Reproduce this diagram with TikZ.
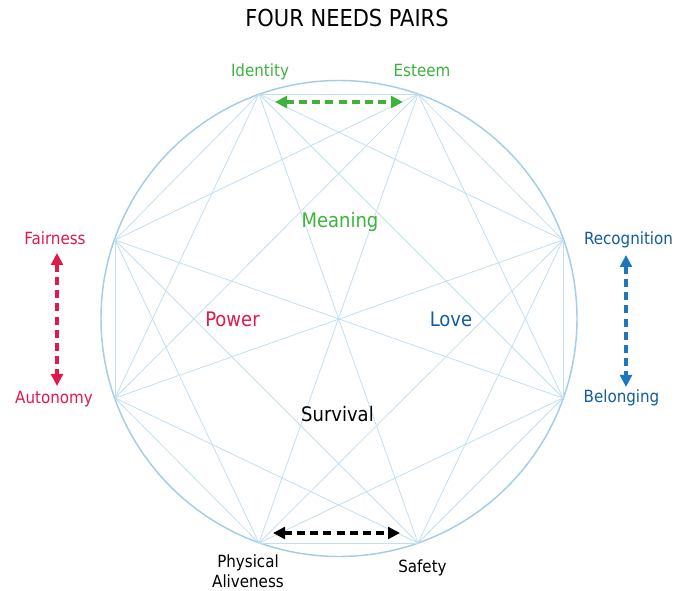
\documentclass[tikz,border=0pt]{standalone}
\usepackage{fontspec}
\setmainfont{DejaVu Sans Condensed}
\usetikzlibrary{arrows.meta}

\definecolor{needgreen}{HTML}{3DB33D}
\definecolor{needred}{HTML}{E0194A}
\definecolor{needblue}{HTML}{135C9E}
\definecolor{arrowblue}{HTML}{1B78C0}
\definecolor{chordblue}{HTML}{C2DFF1}
\definecolor{ringblue}{HTML}{A3CDE9}

\tikzset{
  chord/.style={draw=chordblue, line width=0.6pt},
  needlabel/.style={anchor=base, inner sep=0pt, font=\fontsize{12.6}{15.75}\selectfont},
  corelabel/.style={anchor=base, inner sep=0pt, font=\fontsize{15}{18}\selectfont},
  pairarrow/.style={line width=2.8pt, dash pattern=on 6pt off 3.8pt,
    {Triangle[length=9pt,width=8.8pt]}-{Triangle[length=9pt,width=8.8pt]}}
}

\begin{document}
\begin{tikzpicture}[x=0.75pt, y=-0.75pt]
\useasboundingbox (0,0) rectangle (675,591);

% the eight needs sit on the ring
\coordinate (v1) at (259,94);   % Identity
\coordinate (v2) at (418,94);   % Esteem
\coordinate (v3) at (563,240);  % Recognition
\coordinate (v4) at (563,398);  % Belonging
\coordinate (v5) at (418,543);  % Safety
\coordinate (v6) at (259,543);  % Physical Aliveness
\coordinate (v7) at (115,398);  % Autonomy
\coordinate (v8) at (115,240);  % Fairness

% ring and the chords (no straight across vertical/horizontal ones)
\draw[draw=ringblue, line width=1.1pt] (339,318.5) circle (238);
\foreach \i in {1,...,7} {
  \pgfmathtruncatemacro\nxt{\i+1}
  \foreach \j in {\nxt,...,8} {
    \pgfmathtruncatemacro\noline{((\i+\j==7) || (\i+\j==11)) && (\j-\i>2)}
    \ifnum\noline=0 \draw[chord] (v\i) -- (v\j); \fi
  }
}

% title
\node[anchor=base, font=\fontsize{17.5}{20}\selectfont] (title) at (347,27) {FOUR NEEDS PAIRS};

% outer labels
\node[needlabel, text=needgreen] (ident) at (260,77) {Identity};
\node[needlabel, text=needgreen] (esteem) at (422,77) {Esteem};
\node[needlabel, text=needblue] (recog) at (628.5,245) {Recognition};
\node[needlabel, text=needblue] (belong) at (621.5,403) {Belonging};
\node[needlabel, text=black] (safety) at (422.5,572) {Safety};
\node[needlabel, anchor=north, align=center, text=black,
      font=\fontsize{12.6}{15.2}\selectfont] (phys) at (248,554.5) {Physical\\Aliveness};
\node[needlabel, text=needred] (auton) at (54,404) {Autonomy};
\node[needlabel, text=needred] (fair) at (55,245) {Fairness};

% inner labels
\node[corelabel, text=needgreen] (meaning) at (340,228) {Meaning};
\node[corelabel, text=needred] (power) at (232.5,327) {Power};
\node[corelabel, text=needblue] (love) at (451,327) {Love};
\node[corelabel, text=black] (survival) at (337.5,422) {Survival};

% pair arrows
\coordinate (g1) at (275,102);
\coordinate (g2) at (403,102);
\coordinate (r1) at (57,253);
\coordinate (r2) at (57,386);
\coordinate (b1) at (626,255);
\coordinate (b2) at (626,387);
\coordinate (k1) at (273,533);
\coordinate (k2) at (400,533);
\draw[pairarrow, needgreen] (g1) -- (g2);
\draw[pairarrow, needred] (r1) -- (r2);
\draw[pairarrow, arrowblue] (b1) -- (b2);
\draw[pairarrow, black] (k1) -- (k2);
\end{tikzpicture}
\end{document}
